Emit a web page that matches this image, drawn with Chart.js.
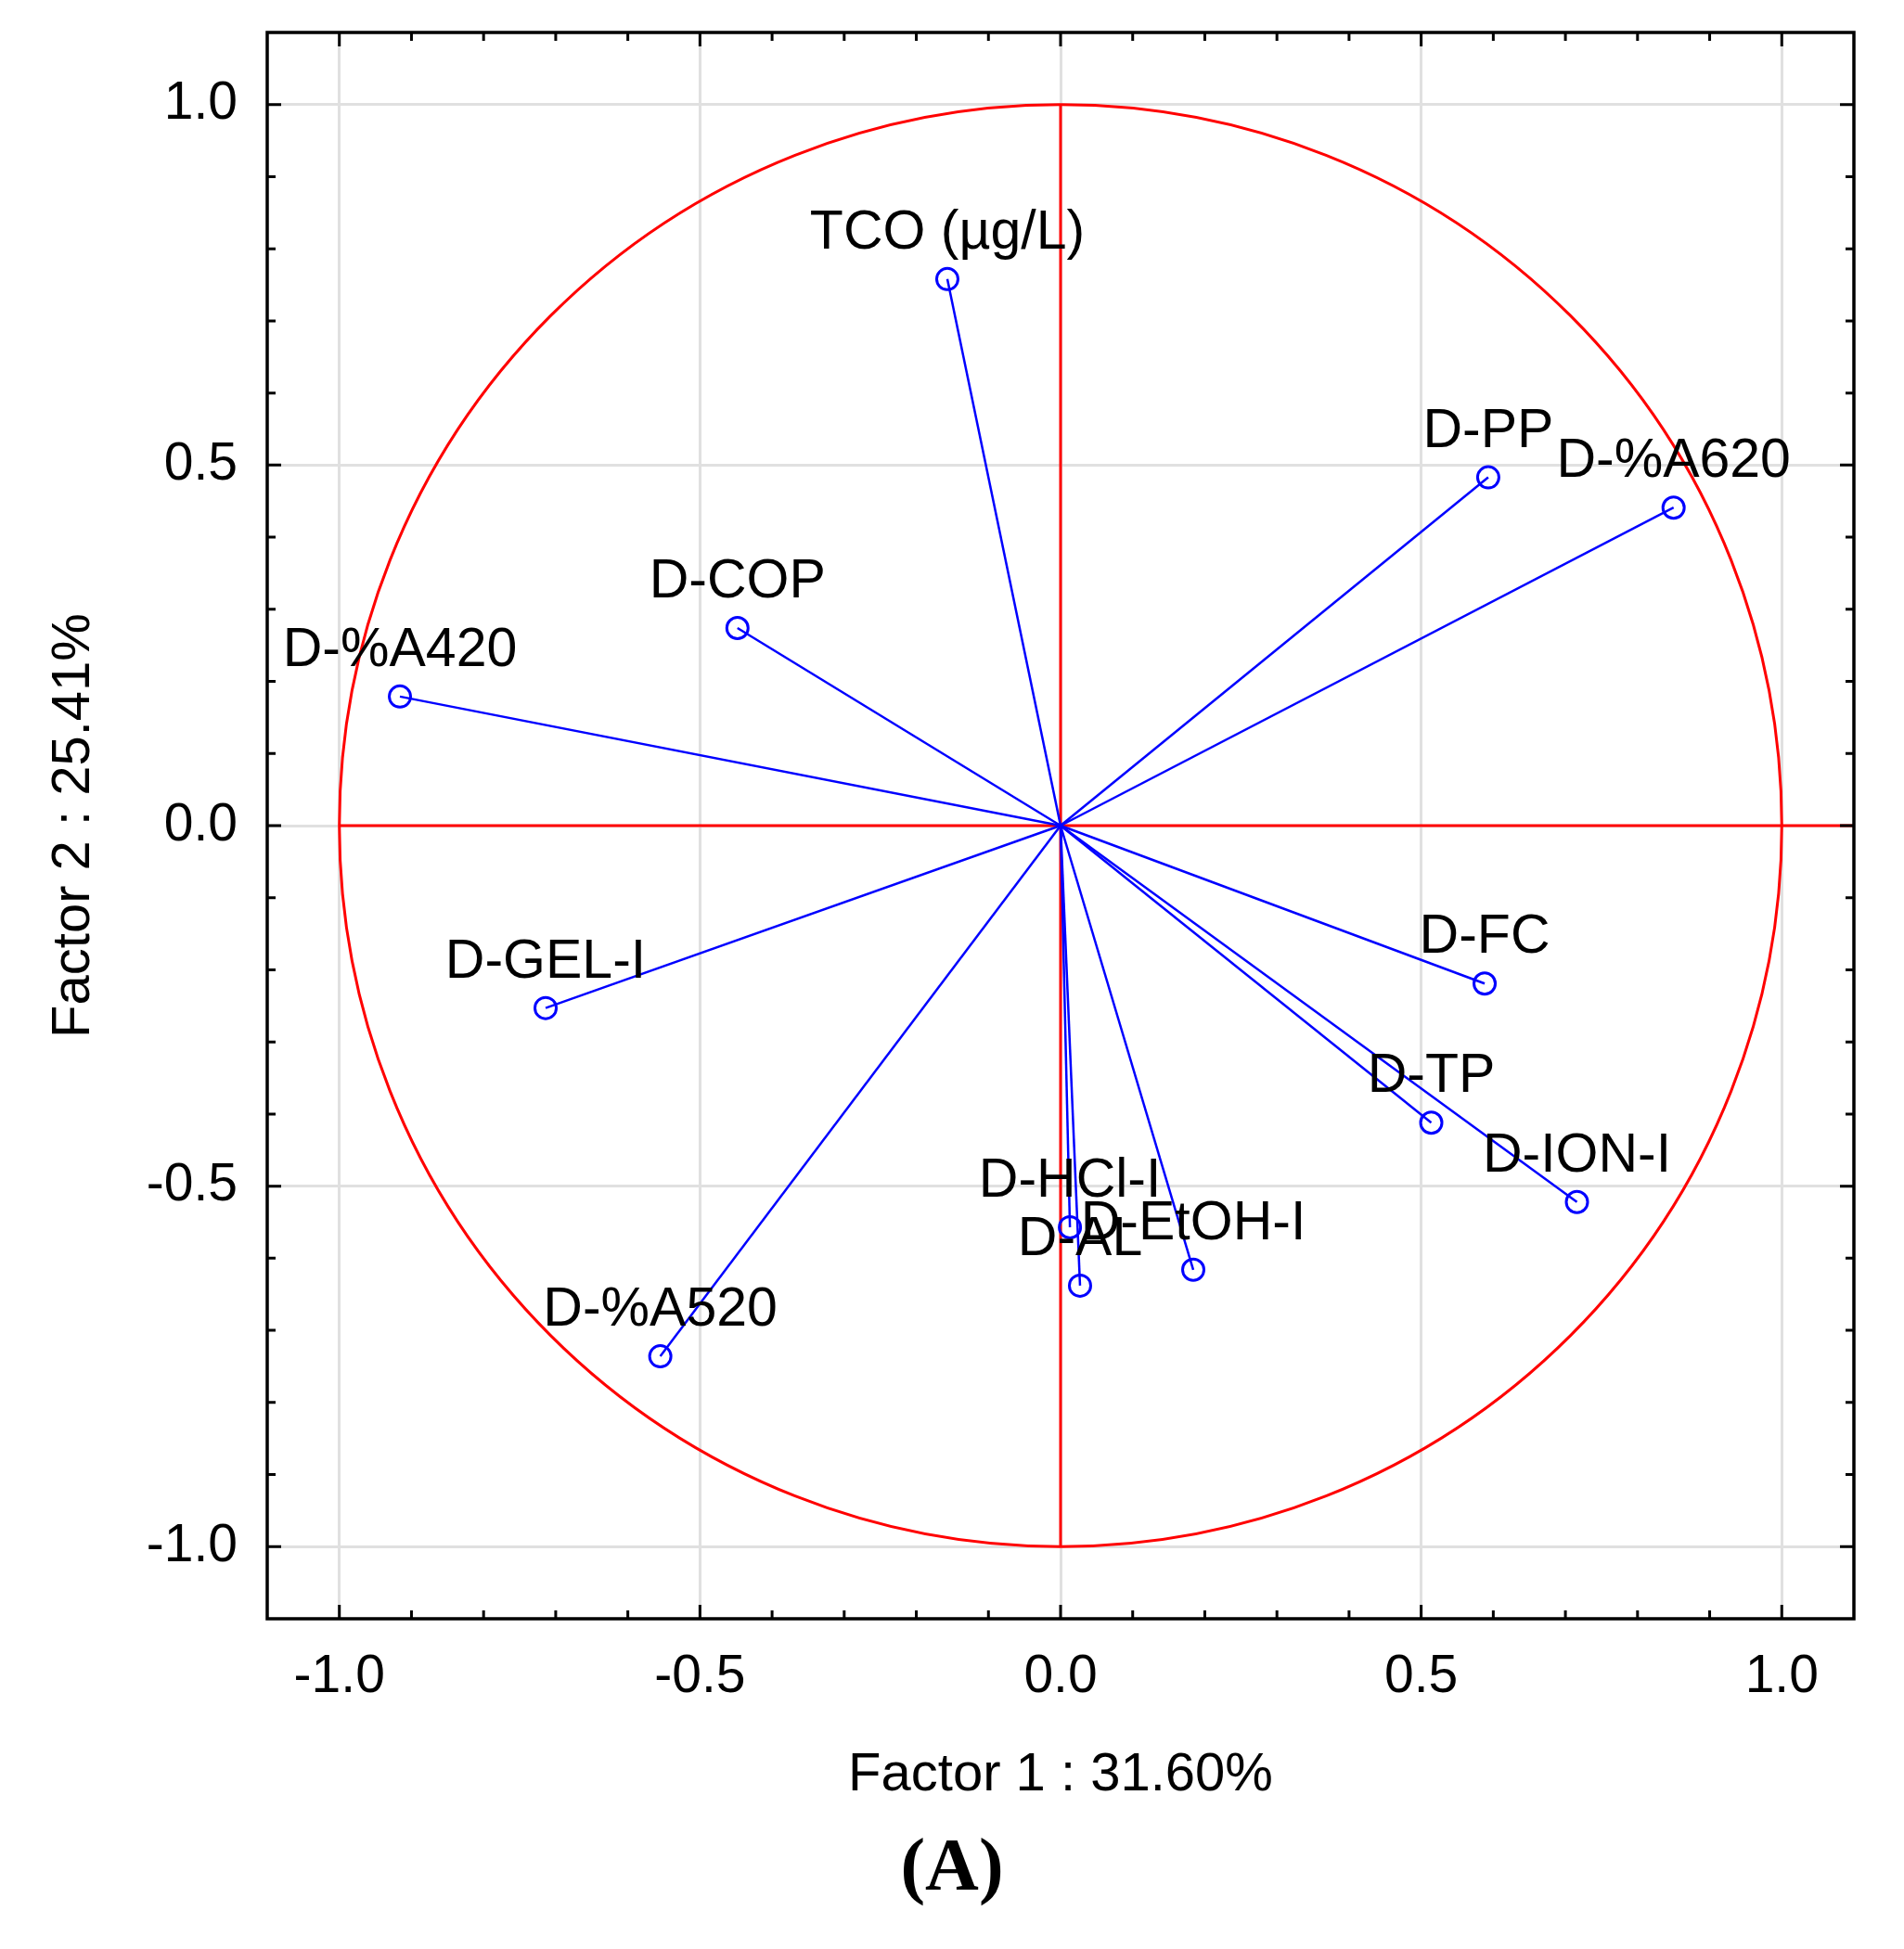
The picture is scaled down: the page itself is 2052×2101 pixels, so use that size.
<!DOCTYPE html>
<html>
<head>
<meta charset="utf-8">
<title>Factor 1 vs Factor 2</title>
<script src="https://cdn.jsdelivr.net/npm/chart.js@4.4.1/dist/chart.umd.min.js"></script>
<style>
    html, body { margin: 0; padding: 0; background: #ffffff; }
    #contenedor { width: 2052px; height: 2101px; position: relative; }
</style>
</head>
<body>
<div id="contenedor"><canvas id="graficoFactores"></canvas></div>
<script>
// Variables del círculo de correlaciones
const variables = ['TCO (µg/L)', 'D-PP', 'D-%A620', 'D-COP', 'D-%A420', 'D-GEL-I', 'D-FC',
                   'D-TP', 'D-ION-I', 'D-HCl-I', 'D-AL', 'D-EtOH-I', 'D-%A520'];
const factor1 = [-0.157, 0.593, 0.850, -0.448, -0.916, -0.714, 0.588,
                  0.514, 0.716, 0.013, 0.027, 0.184, -0.555];
const factor2 = [0.758, 0.483, 0.441, 0.274, 0.179, -0.253, -0.219,
                 -0.412, -0.522, -0.557, -0.638, -0.616, -0.736];

// Ticks de los ejes
const ticksMayores = [-1.0, -0.5, 0.0, 0.5, 1.0];
const ticksMenores = [-1.0, -0.9, -0.8, -0.7, -0.6, -0.5, -0.4, -0.3, -0.2, -0.1, 0.0,
                      0.1, 0.2, 0.3, 0.4, 0.5, 0.6, 0.7, 0.8, 0.9, 1.0];
const tituloX = 'Factor 1 : 31.60%';
const tituloY = 'Factor 2 : 25.41%';
const tituloPanel = '(A)';

const AZUL = '#0000ff';
const ROJO = '#ff0000';

Chart.defaults.font.family = '"Liberation Sans", Arial, sans-serif';
Chart.defaults.color = '#000000';

// Círculo unidad y ejes rojos
const pluginCirculo = {
    id: 'circuloCorrelaciones',
    beforeDatasetsDraw(chart) {
        const { ctx, chartArea, scales: { x, y } } = chart;
        const cx = x.getPixelForValue(0);
        const cy = y.getPixelForValue(0);
        const rx = x.getPixelForValue(1) - cx;
        const ry = cy - y.getPixelForValue(1);
        ctx.save();
        ctx.strokeStyle = ROJO;
        ctx.lineWidth = 3;
        ctx.beginPath();
        ctx.ellipse(cx, cy, rx, ry, 0, 0, Math.PI * 2);
        ctx.stroke();
        ctx.beginPath();
        ctx.moveTo(cx, y.getPixelForValue(1));
        ctx.lineTo(cx, y.getPixelForValue(-1));
        ctx.moveTo(x.getPixelForValue(-1), cy);
        ctx.lineTo(chartArea.right, cy);
        ctx.stroke();
        ctx.restore();
    }
};

// Etiquetas de las variables encima de cada punto
const pluginEtiquetas = {
    id: 'etiquetasVariables',
    afterDatasetsDraw(chart) {
        const { ctx } = chart;
        ctx.save();
        ctx.font = '59px "Liberation Sans", Arial, sans-serif';
        ctx.fillStyle = '#000000';
        ctx.textAlign = 'center';
        ctx.textBaseline = 'alphabetic';
        chart.data.datasets.forEach((ds, i) => {
            const punto = chart.getDatasetMeta(i).data[1];
            if (!punto) return;
            ctx.fillText(ds.label, punto.x, punto.y - 33);
        });
        ctx.restore();
    }
};

// Marco del gráfico con ticks hacia dentro en los cuatro lados
const pluginMarco = {
    id: 'marcoTicks',
    afterDraw(chart) {
        const { ctx, chartArea: a, scales: { x, y } } = chart;
        ctx.save();
        ctx.strokeStyle = '#000000';
        ctx.lineWidth = 3;
        ctx.beginPath();
        ticksMenores.forEach(v => {
            const largo = ticksMayores.includes(v) ? 15 : 9;
            const px = x.getPixelForValue(v);
            const py = y.getPixelForValue(v);
            ctx.moveTo(px, a.bottom); ctx.lineTo(px, a.bottom - largo);
            ctx.moveTo(px, a.top); ctx.lineTo(px, a.top + largo);
            ctx.moveTo(a.left, py); ctx.lineTo(a.left + largo, py);
            ctx.moveTo(a.right, py); ctx.lineTo(a.right - largo, py);
        });
        ctx.stroke();
        ctx.lineWidth = 3.5;
        ctx.strokeRect(a.left, a.top, a.right - a.left, a.bottom - a.top);
        ctx.restore();
    }
};

function ticksSoloMayores(scale) {
    scale.ticks = ticksMayores.map(v => ({ value: v }));
}

const datasets = variables.map((nombre, i) => ({
    label: nombre,
    data: [{ x: 0, y: 0 }, { x: factor1[i], y: factor2[i] }],
    showLine: true,
    borderColor: AZUL,
    borderWidth: 2.5,
    pointRadius: [0, 11.5],
    pointBorderWidth: 3,
    pointBorderColor: AZUL,
    pointBackgroundColor: 'rgba(0,0,0,0)',
    tension: 0
}));

const escalaComun = {
    type: 'linear',
    min: -1.1,
    max: 1.1,
    afterBuildTicks: ticksSoloMayores,
    grid: { color: '#e0e0e0', lineWidth: 3, drawTicks: false },
    border: { display: false },
    ticks: {
        autoSkip: false,
        maxRotation: 0,
        minRotation: 0,
        font: { size: 57, lineHeight: 1.2 },
        callback: v => Number(v).toFixed(1)
    }
};

new Chart(document.getElementById('graficoFactores'), {
    type: 'scatter',
    data: { datasets },
    options: {
        responsive: true,
        maintainAspectRatio: false,
        devicePixelRatio: 1,
        animation: false,
        events: [],
        layout: { padding: { top: 35, right: 54, left: 54, bottom: 0 } },
        plugins: {
            legend: { display: false },
            tooltip: { enabled: false },
            title: {
                display: true,
                position: 'bottom',
                text: tituloPanel,
                color: '#000000',
                font: { family: '"Liberation Serif", "Times New Roman", serif', size: 80, weight: 'bold', lineHeight: 1.2 },
                padding: { top: 0, bottom: 37 }
            }
        },
        scales: {
            x: {
                ...escalaComun,
                position: 'bottom',
                afterFit: s => { s.height = 223; s.paddingLeft = 0; s.paddingRight = 0; },
                ticks: { ...escalaComun.ticks, padding: 29 },
                title: {
                    display: true,
                    text: tituloX,
                    font: { size: 58, lineHeight: 1.2 },
                    padding: { top: 0, bottom: 19 }
                }
            },
            y: {
                ...escalaComun,
                position: 'left',
                afterFit: s => { s.width = 234; s.paddingTop = 0; s.paddingBottom = 0; },
                ticks: { ...escalaComun.ticks, padding: 32 },
                title: {
                    display: true,
                    text: tituloY,
                    font: { size: 58, lineHeight: 0.9 },
                    padding: { top: 0, bottom: 0 }
                }
            }
        }
    },
    plugins: [pluginCirculo, pluginEtiquetas, pluginMarco]
});
</script>
</body>
</html>
